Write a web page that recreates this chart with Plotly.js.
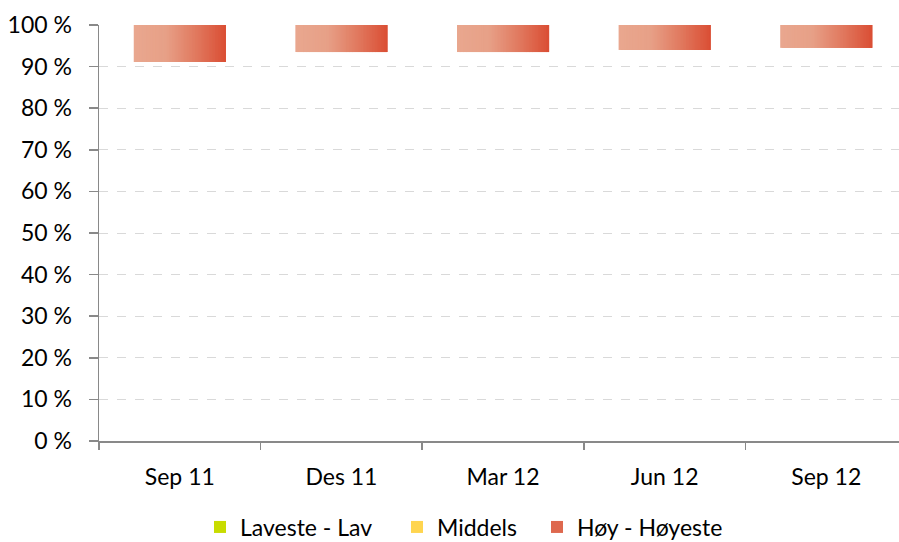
<!DOCTYPE html>
<html>
<head>
<meta charset="utf-8">
<script src="https://cdn.plot.ly/plotly-3.0.1.min.js"></script>
<style>html,body{margin:0;padding:0;background:#fff;}#chart{width:899px;height:542px;}</style>
</head>
<body>
<div id="chart"></div>
<script>
// Data
var categories = ["Sep 11", "Des 11", "Mar 12", "Jun 12", "Sep 12"];
var seriesNames = ["Laveste - Lav", "Middels", "Høy - Høyeste"];
var hoyHoyeste = [8.9, 6.5, 6.5, 6.0, 5.5];   // top segment, % (ends at 100 %)
var yTickVals = [0, 10, 20, 30, 40, 50, 60, 70, 80, 90, 100];
var yTickText = ["0 %", "10 %", "20 %", "30 %", "40 %", "50 %", "60 %", "70 %", "80 %", "90 %", "100 %"];

// Styling
var FONT = "Lato, 'Open Sans', sans-serif";
var FS = 23;
var AXIS = "#898989";
var GRID = "#d9d9d9";
var BARW = 0.57;
var NSLICE = 60;
var LEG_X = [214, 411, 551];   // legend symbol left edges (px)
var LEG_OFF = 14;
var stops = [[0, [233,167,143]], [0.35, [231,160,135]], [0.7, [224,118,92]], [1, [218,78,52]]];
function gradColor(t) {
  for (var k = 0; k < stops.length - 1; k++) {
    var a = stops[k], b = stops[k+1];
    if (t <= b[0]) {
      var u = (t - a[0]) / (b[0] - a[0]);
      var c = a[1].map(function (v, j) { return Math.round(v + (b[1][j] - v) * u); });
      return "rgb(" + c.join(",") + ")";
    }
  }
  return "rgb(218,78,52)";
}

var base = hoyHoyeste.map(function (v) { return 100 - v; });
var traces = [];
// legend-only series (no visible segments)
traces.push({type: "bar", name: seriesNames[0], x: categories, y: categories.map(function(){return null;}),
  marker: {color: "#c8dc00"}, showlegend: true, hoverinfo: "skip", legend: "legend"});
traces.push({type: "bar", name: seriesNames[1], x: categories, y: categories.map(function(){return null;}),
  marker: {color: "#ffd54f"}, showlegend: true, hoverinfo: "skip", legend: "legend2"});
// gradient bar built from thin slices (each slice overlaps the next one)
var sw = BARW / NSLICE;
for (var i = 0; i < NSLICE; i++) {
  var w = (i === NSLICE - 1) ? sw : sw * 2.5;
  if (i * sw + w > BARW) w = BARW - i * sw;
  traces.push({
    type: "bar", name: seriesNames[2], x: categories, y: hoyHoyeste, base: base,
    width: w, offset: -BARW / 2 + i * sw,
    marker: {color: gradColor((i + 0.5) / NSLICE), line: {width: 0}},
    showlegend: i === Math.floor(NSLICE * 0.8), legendgroup: "hoy", hoverinfo: "y", legend: "legend3"
  });
}

function legendAt(px) {
  return {orientation: "h", x: (px - LEG_OFF) / 899, xanchor: "left", xref: "container",
    y: 1 - 527 / 542, yanchor: "middle", yref: "container", bgcolor: "rgba(0,0,0,0)",
    font: {family: FONT, size: FS, color: "#000"}, itemwidth: 30, itemclick: false};
}

var layout = {
  width: 899, height: 542,
  margin: {l: 99, r: 0, t: 25, b: 101, autoexpand: false},
  paper_bgcolor: "#fff", plot_bgcolor: "#fff",
  font: {family: FONT, size: FS, color: "#000"},
  barmode: "overlay",
  showlegend: true,
  legend: legendAt(LEG_X[0]),
  legend2: legendAt(LEG_X[1]),
  legend3: legendAt(LEG_X[2]),
  xaxis: {
    type: "category", range: [-0.5, 4.45], automargin: false,
    showline: true, linecolor: AXIS, linewidth: 1.5,
    ticks: "outside", tickson: "boundaries", ticklen: 7, tickcolor: AXIS, tickwidth: 1.5,
    showgrid: false, zeroline: false, ticklabelstandoff: 15,
    tickfont: {family: FONT, size: FS, color: "#000"}
  },
  yaxis: {
    range: [0, 100], tickvals: yTickVals, ticktext: yTickText, automargin: false,
    showline: true, linecolor: AXIS, linewidth: 1.5,
    ticks: "outside", ticklen: 9, tickcolor: AXIS, tickwidth: 1.5,
    showgrid: true, gridcolor: GRID, gridwidth: 1, griddash: "dash",
    zeroline: false, ticklabelstandoff: 12,
    tickfont: {family: FONT, size: FS, color: "#000"}
  }
};

Plotly.newPlot("chart", traces, layout, {staticPlot: true, displayModeBar: false});
</script>
</body>
</html>
